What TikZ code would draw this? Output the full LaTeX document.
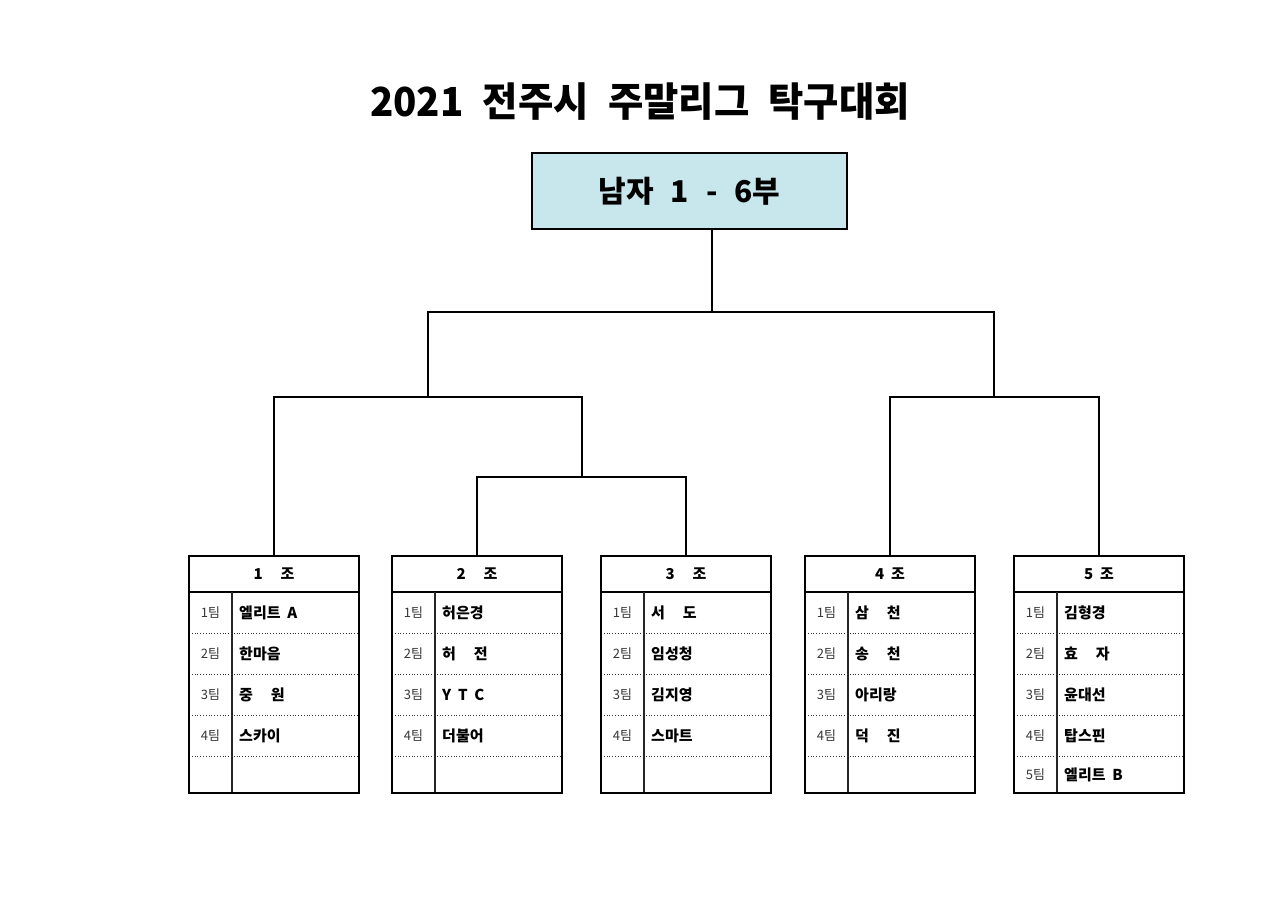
\documentclass[tikz,border=0pt]{standalone}
\usepackage{fontspec}
\newfontfamily\kr{Noto Sans CJK KR}
\usetikzlibrary{calc}
\definecolor{hdfill}{RGB}{200,231,237}
\definecolor{lblgray}{RGB}{55,55,55}
\newcommand\tgap{\hspace{0.45em}}
\newcommand\tGap{\hspace{1.2em}}
\tikzset{
  conn/.style={line width=1.3pt, black},
  grpframe/.style={draw, line width=1.8pt, minimum width=170pt, minimum height=237pt, inner sep=0pt},
  sepline/.style={line width=2.2pt},
  colline/.style={line width=1.2pt, black!85},
  rowline/.style={line width=0.8pt, dotted, black!80},
  grphead/.style={font=\kr\bfseries\fontsize{15}{18}\selectfont, inner sep=0pt},
  teamlbl/.style={font=\kr\fontsize{13}{16}\selectfont, text=lblgray, inner sep=0pt},
  teamname/.style={font=\kr\bfseries\fontsize{15}{18}\selectfont, anchor=west, inner sep=0pt},
}
\newcommand\grpbox[8]{%
  \begin{scope}[shift={(#2-85,556)}]
    \draw[sepline] (0,36) -- (170,36);
    \draw[colline] (43,36) -- (43,237);
    \foreach \yy in {77,118,159,200} \draw[rowline] (0,\yy) -- (170,\yy);
    \node[grphead] (#1h) at (85,18) {#3};
    \node[teamlbl] (#1l1) at (21.5,56.5) {1팀};
    \node[teamname] (#1n1) at (50,56.5) {#4};
    \node[teamlbl] (#1l2) at (21.5,97.5) {2팀};
    \node[teamname] (#1n2) at (50,97.5) {#5};
    \node[teamlbl] (#1l3) at (21.5,138.5) {3팀};
    \node[teamname] (#1n3) at (50,138.5) {#6};
    \node[teamlbl] (#1l4) at (21.5,179.5) {4팀};
    \node[teamname] (#1n4) at (50,179.5) {#7};
    \if\relax\detokenize{#8}\relax\else
      \node[teamlbl] (#1l5) at (21.5,218.5) {5팀};
      \node[teamname] (#1n5) at (50,218.5) {#8};
    \fi
  \end{scope}
  \node[grpframe] (#1) at (#2,674.5) {};
}
\begin{document}
\begin{tikzpicture}[x=1pt,y=-1pt]
\useasboundingbox[fill=white] (0,0) rectangle (1280,905);

% title
\node[font=\kr\bfseries\fontsize{40}{46}\selectfont, inner sep=0pt] (title) at (640,102)
  {\scalebox{0.96}[1]{2021\hspace{20pt}전주시\hspace{20pt}주말리그\hspace{20pt}탁구대회}};

% header box
\node[draw, line width=1.8pt, fill=hdfill, minimum width=315pt, minimum height=76pt, inner sep=0pt,
      font=\kr\bfseries\fontsize{30}{36}\selectfont] (hd) at (689.5,191)
  {남자\hspace{17pt}1\hspace{17pt}-\hspace{17pt}6부};

% groups
\grpbox{g1}{274}{1\tGap 조}{엘리트\tgap A}{한마음}{중\tGap 원}{스카이}{}
\grpbox{g2}{477}{2\tGap 조}{허은경}{허\tGap 전}{Y\tgap T\tgap C}{더불어}{}
\grpbox{g3}{686}{3\tGap 조}{서\tGap 도}{임성청}{김지영}{스마트}{}
\grpbox{g4}{890}{4\tgap 조}{삼\tGap 천}{송\tGap 천}{아리랑}{덕\tGap 진}{}
\grpbox{g5}{1099}{5\tgap 조}{김형경}{효\tGap 자}{윤대선}{탑스핀}{엘리트\tgap B}

% junction coordinates
\coordinate (c0) at (712,312);
\coordinate (bL) at (428,397);
\coordinate (cR) at (994,312);
\coordinate (bR) at (994,397);
\coordinate (bL2) at (582,397);
\coordinate (m) at (582,477);

% connectors
\draw[conn] (c0 |- hd.south) -- (c0);
\draw[conn] (bL) |- (cR) -- (bR);
\draw[conn] (g1.north) |- (bL2) -- (m);
\draw[conn] (g2.north) |- (g3.north |- m) -- (g3.north);
\draw[conn] (g4.north) |- (g5.north |- bR) -- (g5.north);
\end{tikzpicture}
\end{document}
